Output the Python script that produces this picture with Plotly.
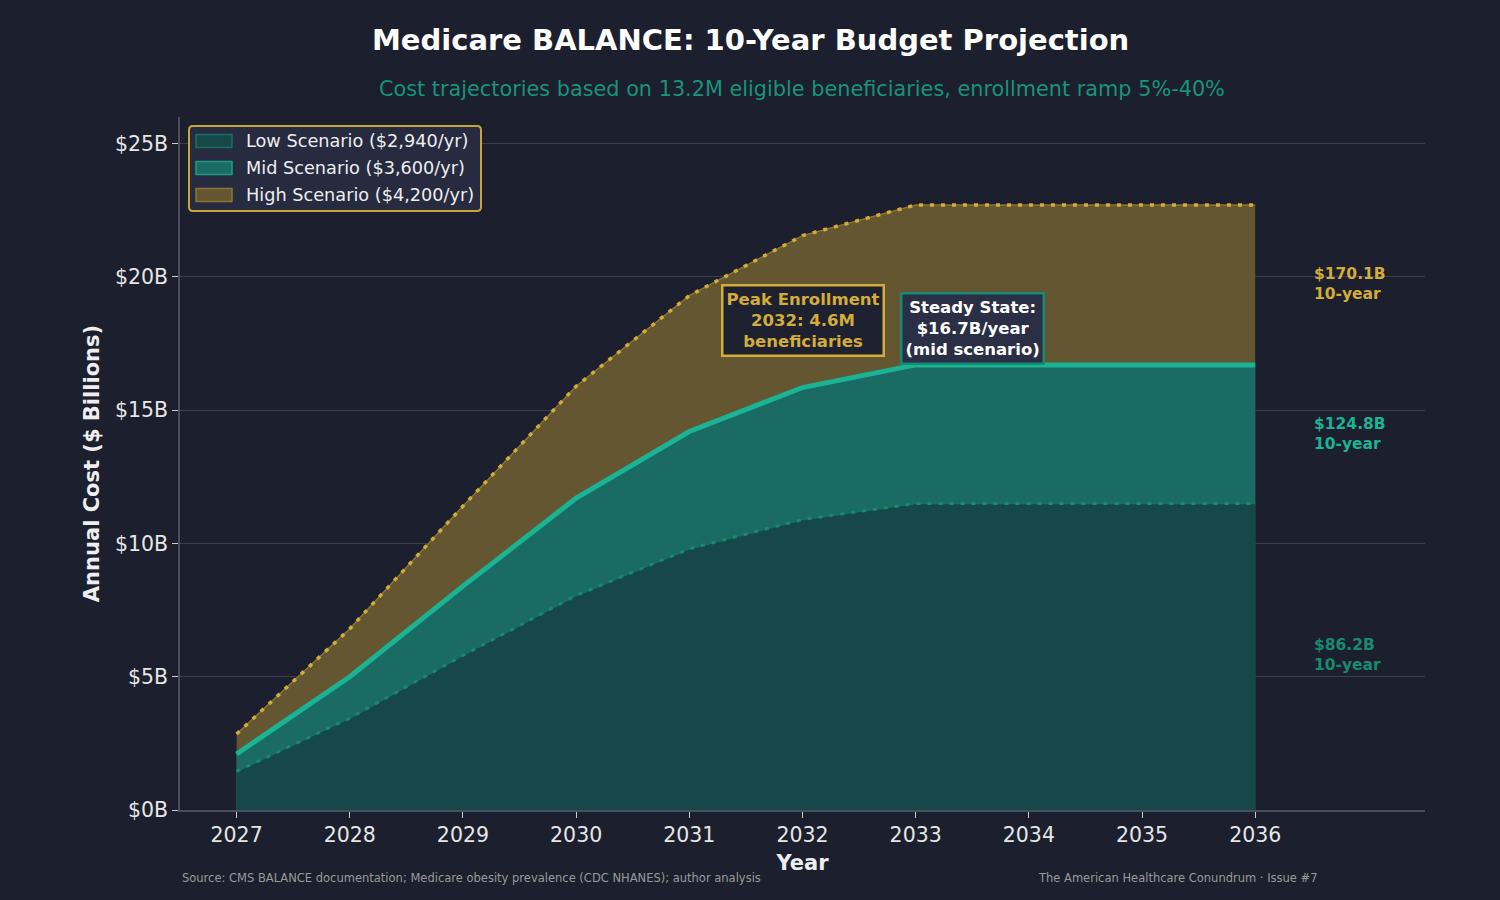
import plotly.graph_objects as go

years = [2027, 2028, 2029, 2030, 2031, 2032, 2033, 2034, 2035, 2036]
low_cost = [1.45, 3.45, 5.8, 8.05, 9.8, 10.9, 11.5, 11.5, 11.5, 11.5]
mid_cost = [2.1, 5.0, 8.4, 11.7, 14.2, 15.85, 16.7, 16.7, 16.7, 16.7]
high_cost = [2.85, 6.8, 11.4, 15.9, 19.3, 21.55, 22.7, 22.7, 22.7, 22.7]
scenario_names = ["Low Scenario ($2,940/yr)", "Mid Scenario ($3,600/yr)", "High Scenario ($4,200/yr)"]
totals = ["$86.2B<br>10-year", "$124.8B<br>10-year", "$170.1B<br>10-year"]
y_ticks = [0, 5, 10, 15, 20, 25]
y_tick_text = ["$0B", "$5B", "$10B", "$15B", "$20B", "$25B"]

BG = "#1b1f2e"
GOLD = "#d4ac38"
TEAL = "#1ab394"
DTEAL = "#178a70"
FONT = "DejaVu Sans"

fill_cols = ["#16484a", "#1a6b63", "#635630"]
edge_cols = ["#1a6f62", "#1f9a84", "#8a7535"]

W, H = 1500, 900
ml, mr, mt, mb = 180, 75, 117, 90
pw, ph = W - ml - mr, H - mt - mb
def px(xp): return (xp - ml) / pw
def py(yp): return (H - mb - yp) / ph

fig = go.Figure()

# filled areas (drawn high -> mid -> low)
for vals, i in [(high_cost, 2), (mid_cost, 1), (low_cost, 0)]:
    fig.add_trace(go.Scatter(x=years, y=vals, mode="lines", fill="tozeroy",
                             fillcolor=fill_cols[i], line=dict(color=edge_cols[i], width=1.5),
                             name=scenario_names[i], showlegend=False, hoverinfo="skip"))

# lines
fig.add_trace(go.Scatter(x=years, y=high_cost, mode="lines", showlegend=False,
                         line=dict(color=GOLD, width=3.5, dash="4px,7px")))
fig.add_trace(go.Scatter(x=years, y=low_cost, mode="lines", showlegend=False,
                         line=dict(color="#168a70", width=3, dash="4px,7px")))
fig.add_trace(go.Scatter(x=years, y=mid_cost, mode="lines", showlegend=False,
                         line=dict(color=TEAL, width=5)))

def rounded_rect(x0, y0, x1, y1, r):
    def P(x, y): return f"{px(x):.6f},{py(y):.6f}"
    return (f"M {P(x0 + r, y0)} L {P(x1 - r, y0)} Q {P(x1, y0)} {P(x1, y0 + r)} "
            f"L {P(x1, y1 - r)} Q {P(x1, y1)} {P(x1 - r, y1)} "
            f"L {P(x0 + r, y1)} Q {P(x0, y1)} {P(x0, y1 - r)} "
            f"L {P(x0, y0 + r)} Q {P(x0, y0)} {P(x0 + r, y0)} Z")

shapes = []
annotations = []

# manual legend
shapes.append(dict(type="path", xref="paper", yref="paper", path=rounded_rect(189, 126, 481, 211, 4),
                   fillcolor="#262b40", line=dict(color="#c9a43a", width=2), layer="above"))
row_y = [141, 168, 195]
for i in range(3):
    shapes.append(dict(type="rect", xref="paper", yref="paper",
                       x0=px(196), x1=px(232), y0=py(row_y[i] - 6.5), y1=py(row_y[i] + 6.5),
                       fillcolor=fill_cols[i], line=dict(color=edge_cols[i], width=1.5), layer="above"))
    annotations.append(dict(text=scenario_names[i], xref="paper", yref="paper",
                            x=px(244), y=py(row_y[i]), xanchor="left", yanchor="middle",
                            showarrow=False, font=dict(size=17.7, color="#eeeeee", family=FONT)))

annotations += [
    dict(text="<b>Medicare BALANCE: 10-Year Budget Projection</b>", xref="paper", yref="paper",
         x=px(750), y=py(40), xanchor="center", yanchor="middle", showarrow=False,
         font=dict(size=29, color="#ffffff", family=FONT)),
    dict(text="Cost trajectories based on 13.2M eligible beneficiaries, enrollment ramp 5%-40%",
         xref="paper", yref="paper", x=px(802), y=py(89), xanchor="center", yanchor="middle", showarrow=False,
         font=dict(size=20.8, color="#17947a", family=FONT)),
    dict(text="<b>Peak Enrollment<br>2032: 4.6M<br>beneficiaries</b>", x=2032, y=18.35,
         xref="x", yref="y", showarrow=False, font=dict(size=16.5, color=GOLD, family=FONT),
         bgcolor="#1e2130", bordercolor=GOLD, borderwidth=2.5, borderpad=3),
    dict(text="<b>Steady State:<br>$16.7B/year<br>(mid scenario)</b>", x=2033.5, y=18.05,
         xref="x", yref="y", showarrow=False, font=dict(size=16.5, color="#ffffff", family=FONT),
         bgcolor="#2a2f45", bordercolor="#178a74", borderwidth=2.5, borderpad=3),
    dict(text="<b>" + totals[2] + "</b>", x=2036.5, y=19.75, xref="x", yref="y", showarrow=False,
         xanchor="left", align="left", font=dict(size=15.5, color=GOLD, family=FONT)),
    dict(text="<b>" + totals[1] + "</b>", x=2036.5, y=14.1, xref="x", yref="y", showarrow=False,
         xanchor="left", align="left", font=dict(size=15.5, color=TEAL, family=FONT)),
    dict(text="<b>" + totals[0] + "</b>", x=2036.5, y=5.8, xref="x", yref="y", showarrow=False,
         xanchor="left", align="left", font=dict(size=15.5, color=DTEAL, family=FONT)),
    dict(text="Source: CMS BALANCE documentation; Medicare obesity prevalence (CDC NHANES); author analysis",
         xref="paper", yref="paper", x=px(180), y=py(878), xanchor="left", yanchor="middle", showarrow=False,
         font=dict(size=11.5, color="#9a9a9a", family=FONT)),
    dict(text="The American Healthcare Conundrum · Issue #7",
         xref="paper", yref="paper", x=px(1320), y=py(878), xanchor="right", yanchor="middle", showarrow=False,
         font=dict(size=11.5, color="#9a9a9a", family=FONT)),
]

fig.update_layout(
    width=W, height=H,
    margin=dict(l=ml, r=mr, t=mt, b=mb),
    paper_bgcolor=BG, plot_bgcolor=BG,
    font=dict(family=FONT, color="#e6e6e6"),
    annotations=annotations,
    shapes=shapes,
    showlegend=False,
    xaxis=dict(range=[2026.5, 2037.5], tickvals=years, ticktext=[str(y) for y in years],
               tickfont=dict(size=20.5, color="#e6e6e6"), showgrid=False, zeroline=False,
               showline=True, linecolor="#4a4e5c", linewidth=1.5,
               ticks="outside", ticklen=6, tickcolor="#cccccc",
               title=dict(text="<b>Year</b>", font=dict(size=21, color="#eeeeee"), standoff=9)),
    yaxis=dict(range=[0, 26], tickvals=y_ticks, ticktext=y_tick_text,
               tickfont=dict(size=20.5, color="#e6e6e6"), showgrid=True,
               gridcolor="#3a3e4d", gridwidth=1, zeroline=False,
               showline=True, linecolor="#4a4e5c", linewidth=1.5,
               ticks="outside", ticklen=6, tickcolor="#cccccc",
               title=dict(text="<b>Annual Cost ($ Billions)</b>", font=dict(size=21, color="#eeeeee"), standoff=10)),
)

fig.write_html("out.html")
